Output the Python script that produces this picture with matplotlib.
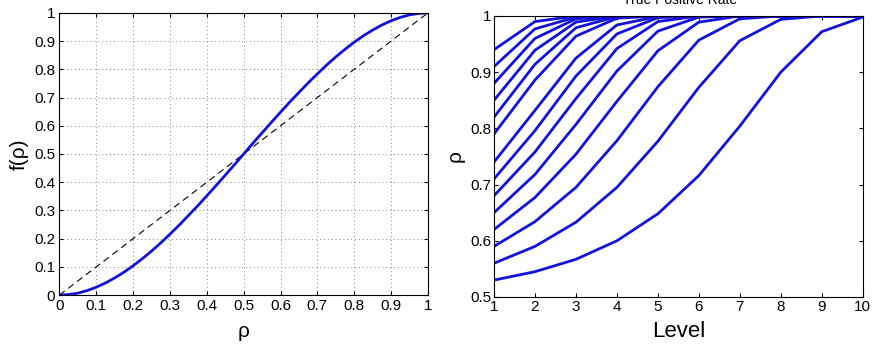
import matplotlib
matplotlib.use("Agg")
import matplotlib.pyplot as plt

plt.rcParams['font.family'] = ['Liberation Sans', 'DejaVu Sans']

# --- left panel: f(rho) curve ---
rho = [0.0, 0.025, 0.05, 0.075, 0.1, 0.125, 0.15, 0.175, 0.2, 0.225, 0.25,
       0.275, 0.3, 0.325, 0.35, 0.375, 0.4, 0.425, 0.45, 0.475, 0.5,
       0.525, 0.55, 0.575, 0.6, 0.625, 0.65, 0.675, 0.7, 0.725, 0.75,
       0.775, 0.8, 0.825, 0.85, 0.875, 0.9, 0.925, 0.95, 0.975, 1.0]
f_rho = [0.0, 0.002, 0.007, 0.016, 0.028, 0.043, 0.061, 0.081, 0.104, 0.129, 0.156,
         0.185, 0.216, 0.248, 0.282, 0.316, 0.352, 0.388, 0.425, 0.462, 0.5,
         0.538, 0.575, 0.612, 0.648, 0.684, 0.718, 0.752, 0.784, 0.815, 0.844,
         0.871, 0.896, 0.919, 0.939, 0.957, 0.972, 0.984, 0.993, 0.998, 1.0]
diag = [0.0, 1.0]

# --- right panel: rho per level, one list per starting value ---
levels = [1, 2, 3, 4, 5, 6, 7, 8, 9, 10]
tpr_lines = [
    [0.530, 0.545, 0.567, 0.600, 0.648, 0.716, 0.804, 0.900, 0.972, 0.998],
    [0.560, 0.590, 0.633, 0.695, 0.777, 0.873, 0.956, 0.994, 1.000, 1.000],
    [0.590, 0.634, 0.695, 0.778, 0.874, 0.957, 0.995, 1.000, 1.000, 1.000],
    [0.620, 0.677, 0.754, 0.848, 0.938, 0.989, 1.000, 1.000, 1.000, 1.000],
    [0.650, 0.718, 0.807, 0.902, 0.973, 0.998, 1.000, 1.000, 1.000, 1.000],
    [0.680, 0.758, 0.853, 0.942, 0.990, 1.000, 1.000, 1.000, 1.000, 1.000],
    [0.710, 0.796, 0.893, 0.968, 0.997, 1.000, 1.000, 1.000, 1.000, 1.000],
    [0.740, 0.832, 0.925, 0.984, 0.999, 1.000, 1.000, 1.000, 1.000, 1.000],
    [0.790, 0.886, 0.964, 0.996, 1.000, 1.000, 1.000, 1.000, 1.000, 1.000],
    [0.820, 0.914, 0.979, 0.999, 1.000, 1.000, 1.000, 1.000, 1.000, 1.000],
    [0.850, 0.939, 0.989, 1.000, 1.000, 1.000, 1.000, 1.000, 1.000, 1.000],
    [0.880, 0.960, 0.995, 1.000, 1.000, 1.000, 1.000, 1.000, 1.000, 1.000],
    [0.910, 0.977, 0.998, 1.000, 1.000, 1.000, 1.000, 1.000, 1.000, 1.000],
    [0.940, 0.990, 1.000, 1.000, 1.000, 1.000, 1.000, 1.000, 1.000, 1.000],
]

left_ticks = [0, 0.1, 0.2, 0.3, 0.4, 0.5, 0.6, 0.7, 0.8, 0.9, 1]
left_labels = ['0', '0.1', '0.2', '0.3', '0.4', '0.5', '0.6', '0.7', '0.8', '0.9', '1']
right_yticks = [0.5, 0.6, 0.7, 0.8, 0.9, 1.0]
right_ylabels = ['0.5', '0.6', '0.7', '0.8', '0.9', '1']

blue = '#1212dc'

fig = plt.figure(figsize=(8.74, 3.48), dpi=100)

# left panel
ax1 = fig.add_axes([0.068, 0.152, 0.4216, 0.811])
ax1.plot(diag, diag, color='black', linestyle=(0, (6, 4)), linewidth=0.8)
ax1.plot(rho, f_rho, color=blue, linewidth=2)
ax1.set_xlim(0, 1)
ax1.set_ylim(0, 1)
ax1.set_xticks(left_ticks)
ax1.set_xticklabels(left_labels)
ax1.set_yticks(left_ticks)
ax1.set_yticklabels(left_labels)
ax1.grid(True, linestyle=(0, (1, 3)), color='#888888', linewidth=0.7)
ax1.tick_params(direction='in', top=True, right=True, labelsize=11, length=3, pad=3)
ax1.set_xlabel('ρ', fontsize=15, labelpad=6)
ax1.set_ylabel('f(ρ)', fontsize=15, labelpad=4)

# right panel
ax2 = fig.add_axes([0.5652, 0.1466, 0.4219, 0.8075])
for vals in tpr_lines:
    ax2.plot(levels, vals, color=blue, linewidth=2)
ax2.set_xlim(1, 10)
ax2.set_ylim(0.5, 1)
ax2.set_xticks(levels)
ax2.set_yticks(right_yticks)
ax2.set_yticklabels(right_ylabels)
ax2.tick_params(direction='in', top=True, right=True, labelsize=11, length=3, pad=2)
ax2.set_xlabel('Level', fontsize=16, labelpad=5)
ax2.set_ylabel('ρ', fontsize=15, labelpad=4)

fig.text(0.778, 1 - 3.5 / 348, 'True Positive Rate', ha='center', va='baseline', fontsize=10)

fig.savefig('out.png', dpi=100)
